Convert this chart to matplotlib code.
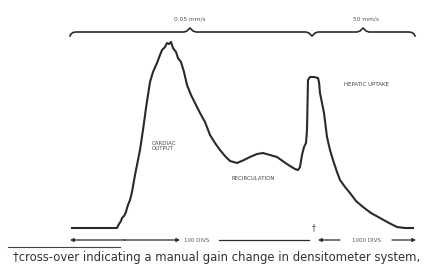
import matplotlib
matplotlib.use("Agg")
import matplotlib.pyplot as plt

# Densitometer trace (chart units: x = chart position, y = deflection, downward positive as on paper)
curve_x = [72, 90, 110, 117, 119, 121, 122, 124, 126, 127, 128, 130, 132, 135, 138, 140, 143, 146,
           148, 150, 153, 157, 160, 162, 165, 167, 169, 171, 173, 176, 178, 181, 184, 187, 191, 195,
           200, 205, 210, 215, 220, 225, 230, 237, 244, 250, 257, 263, 270, 277, 284, 290, 295, 298,
           300, 302, 304, 306, 307, 308, 310, 314, 318, 319, 320, 322, 324, 327, 330, 333, 337, 340,
           345, 350, 356, 363, 371, 380, 389, 397, 405, 413]
curve_y = [228, 228, 228, 228, 224, 221, 218, 216, 212, 208, 205, 200, 192, 175, 160, 150, 130, 108,
           95, 82, 72, 63, 55, 50, 47, 43, 44, 42, 48, 52, 58, 62, 72, 85, 95, 103,
           113, 122, 135, 143, 150, 156, 161, 163, 160, 157, 154, 153, 155, 157, 162, 166, 169, 170,
           167, 155, 147, 143, 130, 80, 77, 77, 78, 82, 93, 103, 113, 137, 150, 160, 172, 180,
           187, 193, 201, 207, 213, 218, 223, 227, 228, 228]

# Curly bracket across the top
brace_x = [70, 71, 73, 76, 184, 187, 190, 193, 196, 306, 309, 312, 315, 318, 357, 360, 363, 366, 369, 409, 412, 414, 415]
brace_y = [36, 34, 32.5, 32, 32, 31, 28, 31, 32, 32, 33, 36, 33, 32, 32, 31, 28, 31, 32, 32, 32.5, 34, 36]

top_labels = ["0.05 mm/s", "50 mm/s"]
top_label_x = [190, 366]
curve_labels = ["CARDIAC\nOUTPUT", "RECIRCULATION", "HEPATIC UPTAKE"]
curve_label_xy = [(152, 146), (253, 179), (366, 85)]
div_labels = ["100 DIVS", "1000 DIVS"]
footnote = "\u2020cross-over indicating a manual gain change in densitometer system,"

ink = "#2a2a2a"

fig = plt.figure(figsize=(4.3, 2.66), dpi=100)
ax = fig.add_axes([0, 0, 1, 1])
ax.set_xlim(0, 430)
ax.set_ylim(266, 0)
ax.axis("off")

ax.plot(curve_x, curve_y, color=ink, lw=1.5, solid_joinstyle="round")
ax.plot(brace_x, brace_y, color=ink, lw=1.2)

for lab, x in zip(top_labels, top_label_x):
    ax.text(x, 19, lab, ha="center", va="center", fontsize=4.2, color="#555555")

ax.text(curve_label_xy[0][0], curve_label_xy[0][1], curve_labels[0], ha="left", va="center",
        fontsize=4, color="#444444", linespacing=1.2)
ax.text(curve_label_xy[1][0], curve_label_xy[1][1], curve_labels[1], ha="center", va="center",
        fontsize=4, color="#444444")
ax.text(curve_label_xy[2][0], curve_label_xy[2][1], curve_labels[2], ha="center", va="center",
        fontsize=4, color="#444444")

# Bottom scale arrows
arrow_y = 240
ap = dict(arrowstyle="-|>", color=ink, lw=0.9, mutation_scale=5, shrinkA=0, shrinkB=0)
ax.annotate("", xy=(70, arrow_y), xytext=(125, arrow_y), arrowprops=ap)
ax.annotate("", xy=(180, arrow_y), xytext=(124, arrow_y), arrowprops=ap)
ax.text(197, arrow_y, div_labels[0], ha="center", va="center", fontsize=4, color="#555555")
ax.plot([219, 309], [arrow_y, arrow_y], color=ink, lw=0.9)
ax.annotate("", xy=(318, arrow_y), xytext=(340, arrow_y), arrowprops=ap)
ax.text(366, arrow_y, div_labels[1], ha="center", va="center", fontsize=4, color="#555555")
ax.annotate("", xy=(416, arrow_y), xytext=(392, arrow_y), arrowprops=ap)

ax.text(314, 228, "\u2020", ha="center", va="center", fontsize=5.5, color="#444444")

# Footnote rule and text
ax.plot([8, 120], [247, 247], color="#444444", lw=0.8)
ax.text(13, 257, footnote, ha="left", va="center", fontsize=8.4, color="#333333")

fig.savefig("out.png", dpi=100)
